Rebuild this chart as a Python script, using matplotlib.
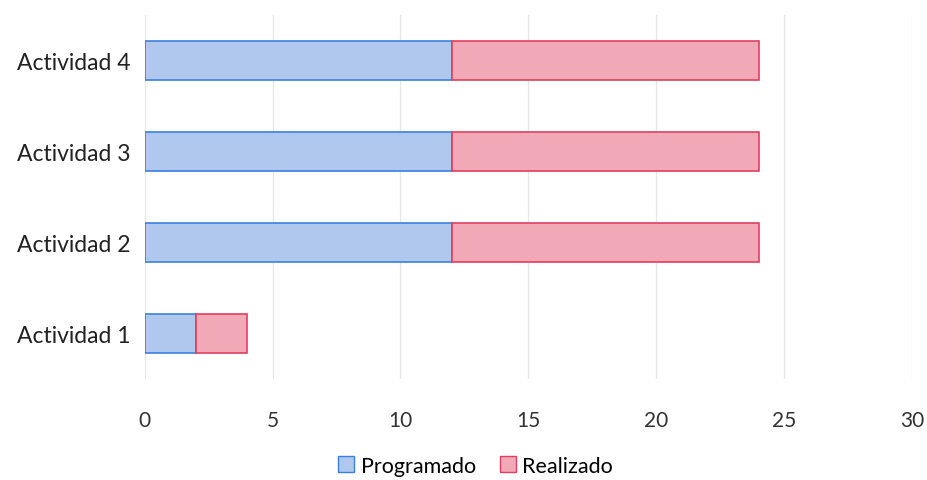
import matplotlib.pyplot as plt
from matplotlib.patches import Patch

actividades = ["Actividad 1", "Actividad 2", "Actividad 3", "Actividad 4"]
programado = [2, 12, 12, 12]
realizado = [2, 12, 12, 12]
xticks = [0, 5, 10, 15, 20, 25, 30]

plt.rcParams['font.family'] = ['Lato', 'DejaVu Sans']

fig = plt.figure(figsize=(9.27, 4.81), dpi=100)
ax = fig.add_axes([0.156, 0.21, 0.828, 0.757])

blue_fc, blue_ec = "#b0c8ee", "#3d7fe0"
red_fc, red_ec = "#f1a8b7", "#e0405f"

y = range(len(actividades))
ax.barh(y, programado, height=0.42, color=blue_fc, edgecolor=blue_ec, linewidth=1.2, zorder=3)
ax.barh(y, realizado, left=programado, height=0.42, color=red_fc, edgecolor=red_ec, linewidth=1.2, zorder=3)

ax.set_xlim(0, 30)
ax.set_ylim(-0.5, 3.5)
ax.set_xticks(xticks)
ax.set_yticks(list(y))
ax.set_yticklabels(actividades)
ax.tick_params(axis='y', length=0, labelsize=16.5, colors="#222222", pad=10)
ax.tick_params(axis='x', length=0, labelsize=15, colors="#333333", pad=22)
ax.grid(axis='x', color="#e6e6e6", linewidth=0.9, zorder=0)
for s in ax.spines.values():
    s.set_visible(False)

handles = [Patch(facecolor=blue_fc, edgecolor=blue_ec, label="Programado"),
           Patch(facecolor=red_fc, edgecolor=red_ec, label="Realizado")]
fig.legend(handles=handles, loc='center', bbox_to_anchor=(0.513, 0.03), ncol=2,
           frameon=False, fontsize=15.5, handlelength=0.75, handleheight=0.75,
           handletextpad=0.3, columnspacing=1.1)

fig.savefig("out.png", dpi=100)
